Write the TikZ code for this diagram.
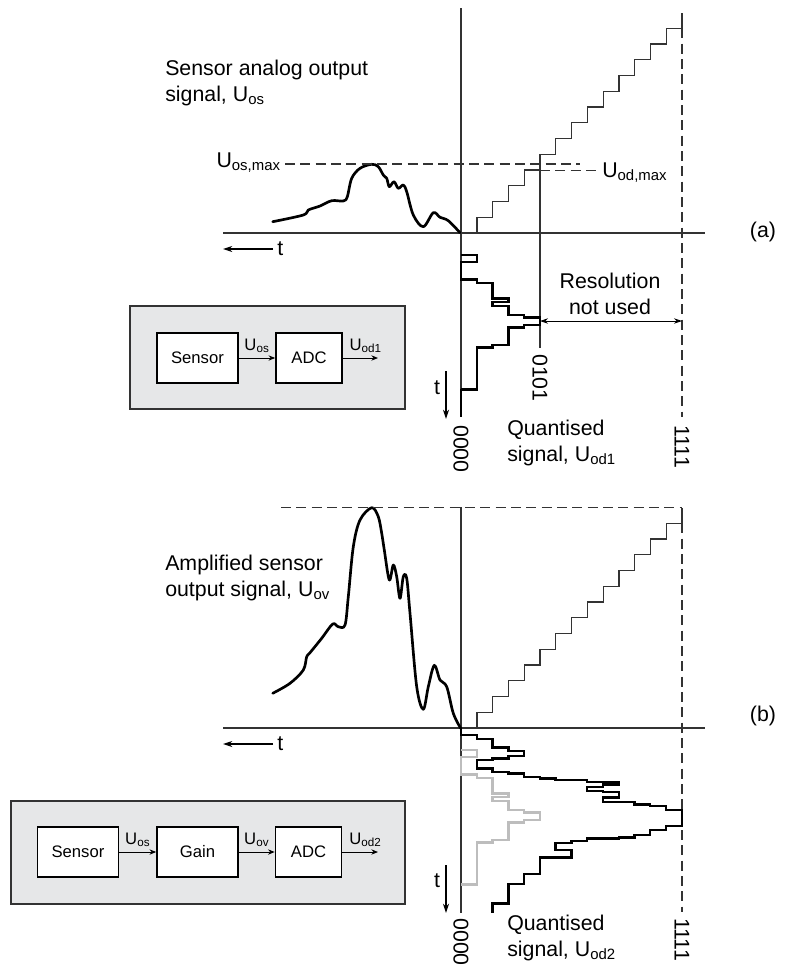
\documentclass[tikz,border=0pt]{standalone}
\usepackage{fontspec}
\setmainfont{Liberation Sans}
\usetikzlibrary{arrows.meta,positioning}

\definecolor{panelgray}{HTML}{E6E7E8}
\definecolor{axisgray}{HTML}{333333}
\definecolor{histgray}{HTML}{BDBDBD}

\tikzset{
  axisline/.style={axisgray, line width=0.9pt},
  guideline/.style={axisgray, line width=0.9pt, dash pattern=on 7.5pt off 4pt},
  analog/.style={line width=2pt, line join=round, line cap=round},
  histo/.style={line width=1.8pt, line join=miter},
  lbl/.style={font=\fontsize{16}{19.5}\selectfont, inner sep=0pt},
  blocktext/.style={font=\fontsize{12.5}{14}\selectfont},
  blockbox/.style={draw, line width=1.2pt, fill=white, minimum height=37.5pt, inner sep=0pt, blocktext},
  panel/.style={draw=axisgray, line width=1.1pt, fill=panelgray, minimum height=77.25pt, inner sep=0pt},
  sig/.style={-{Stealth[length=5pt,width=4pt]}, line width=0.7pt},
  timearrow/.style={-{Stealth[length=7pt,width=4.5pt]}, line width=0.8pt},
  quanthist/.pic={
    \draw[histo] (0,255) -- (1,255) -- (1,261.7) -- (0,261.7) -- (0,279.3) -- (1,279.3)
      -- (1,282.7) -- (2,282.7) -- (2,298.3) -- (3,298.3) -- (3,301.7) -- (2,301.7)
      -- (2,306) -- (3,306) -- (3,315) -- (4,315) -- (4,317.3) -- (5,317.3) -- (5,325)
      -- (4,325) -- (4,327.3) -- (3,327.3) -- (3,345) -- (2,345) -- (2,347.3)
      -- (1,347.3) -- (1,389.3) -- (0,389.3);
  },
}

\begin{document}
\begin{tikzpicture}[x=0.75pt, y=-0.75pt]
  \useasboundingbox (0,0) rectangle (787,967);

  % axes, staircase and full scale line of both plots
  \foreach \dy in {0,495} {
    \begin{scope}[shift={(0,\dy)}]
      \draw[axisline] (223,233) -- (705,233);
      \draw[axisline] (461,233) -- (477,233)
        foreach \k in {1,...,13} { -- ++(0,-15.75) -- ++(15.77,0) } -- ++(0,-15.75);
      \draw[guideline] (682,13) -- (682,417);
    \end{scope}
  }
  \draw[axisline] (461,8) -- (461,417);
  \draw[axisline] (461,507) -- (461,913);

  % (a) sensor signal
  \node[lbl, anchor=west, align=left] (titleA) at (165,83) {Sensor analog output\\signal, U\textsubscript{os}};
  \draw[analog] plot[smooth, tension=0.55] coordinates {
    (272.7,221.7) (303.3,215) (308.3,210) (320,206) (331.7,200.7) (343.3,201)
    (347.3,196.7) (351.7,178.3) (360,168.3) (371.7,164.3) (378.3,166.7) (383.3,175)
    (386.7,178.3) (389.3,186.7) (394,181.7) (398.3,188.3) (403.3,185) (406.7,191.7)
    (413.3,215) (423.3,226.7) (433.3,212.7) (440,217.3) (448.3,220.7) (460,232.7)};
  \node[lbl, anchor=base east] (osmax) at (281,167) {U\textsubscript{os,max}};
  \draw[guideline] (285,164) -- (580,164);
  \node[lbl, anchor=base west] (odmax) at (602,177) {U\textsubscript{od,max}};
  \draw[guideline] (540,170.2) -- (598,170.2);
  \draw[axisline] (540,154.5) -- (540,348);

  \node[lbl, align=center] (resol) at (610,294) {Resolution\\not used};
  \coordinate (lsb) at (540,321);
  \coordinate (msb) at (682,321);
  \draw[{Stealth[length=6pt,width=4pt]}-{Stealth[length=6pt,width=4pt]}, line width=0.7pt] (lsb) -- (msb);

  \node[lbl, anchor=west] (tA) at (277,249) {t};
  \coordinate (tAend) at (223,249);
  \draw[timearrow] (tA.west) ++(-4,0) -- (tAend);
  \node[lbl] (tdA) at (437,388) {t};
  \coordinate (tdAtop) at (446,371);
  \coordinate (tdAend) at (446,419);
  \draw[timearrow] (tdAtop) -- (tdAend);

  \node[lbl, rotate=-90, anchor=west] (zeroA) at (461,425) {0000};
  \node[lbl, rotate=-90, anchor=west] (fiveA) at (540,354) {0101};
  \node[lbl, rotate=-90, anchor=west] (fullA) at (682,425) {1111};
  \node[lbl, anchor=west, align=left] (quantA) at (507,443) {Quantised\\signal, U\textsubscript{od1}};
  \node[lbl] (tagA) at (763,232) {(a)};

  % (b) amplified signal
  \node[lbl, anchor=west, align=left] (titleB) at (165,578) {Amplified sensor\\output signal, U\textsubscript{ov}};
  \draw[analog] plot[smooth, tension=0.55] coordinates {
    (272.7,693.3) (290,683.3) (303.3,670) (306.7,656.7) (310,652.7) (321.7,638.3)
    (332.7,624) (338.3,626.7) (345,625) (348.3,596.7) (353.3,546.7) (360,520)
    (371.7,507.7) (378.3,516.7) (381.7,533.3) (384.3,550) (389.3,580) (393.3,565)
    (396.7,576.7) (400,598.3) (403.3,576.7) (406.7,578.3) (410,613.3) (416.7,686.7)
    (423.3,709.3) (428.3,686.7) (434.3,665.3) (440,680) (446.7,686.7) (453.3,713.3)
    (460.7,728.3)};
  \draw[guideline] (281,507.2) -- (682,507.2);

  \node[lbl, anchor=west] (tB) at (277,744) {t};
  \coordinate (tBend) at (223,744);
  \draw[timearrow] (tB.west) ++(-4,0) -- (tBend);
  \node[lbl] (tdB) at (437,881) {t};
  \coordinate (tdBtop) at (446,865);
  \coordinate (tdBend) at (446,913);
  \draw[timearrow] (tdBtop) -- (tdBend);

  \node[lbl, rotate=-90, anchor=west] (zeroB) at (461,918) {0000};
  \node[lbl, rotate=-90, anchor=west] (fullB) at (682,918) {1111};
  \node[lbl, anchor=west, align=left] (quantB) at (507,938) {Quantised\\signal, U\textsubscript{od2}};
  \node[lbl] (tagB) at (763,716) {(b)};

  % quantised histograms
  \begin{scope}[shift={(461,0)}, x=11.8275pt]
    \pic {quanthist};
    \draw[histo] (0,389.3) -- (0,417);
    \pic[color=histgray] at (0,495) {quanthist};
    \draw[histo] (0,727.3) -- (0,735) -- (1,735) -- (1,739) -- (2,739) -- (2,747.3)
      -- (3,747.3) -- (3,751) -- (4,751) -- (4,756) -- (3,756) -- (3,758.3) -- (2,758.3)
      -- (2,760) -- (1,760) -- (1,768.3) -- (2,768.3) -- (2,771.7) -- (3,771.7)
      -- (3,773.3) -- (4,773.3) -- (4,776.7) -- (5,776.7) -- (5,778.3) -- (6,778.3)
      -- (6,780) -- (8,780) -- (8,781.7) -- (10,781.7) -- (10,784.3) -- (9,784.3)
      -- (9,786.7) -- (8,786.7) -- (8,790.7) -- (9,790.7) -- (9,791.7) -- (10,791.7)
      -- (10,797.3) -- (9,797.3) -- (9,801.7) -- (11,801.7) -- (11,804.3) -- (12,804.3)
      -- (12,806) -- (13,806) -- (13,810) -- (14,810) -- (14,826) -- (13,826)
      -- (13,830) -- (12,830) -- (12,835) -- (11,835) -- (11,837.3) -- (10,837.3)
      -- (10,838.3) -- (8,838.3) -- (8,840.7) -- (7,840.7) -- (7,842.7) -- (6,842.7)
      -- (6,850) -- (7,850) -- (7,857.3) -- (5,857.3) -- (5,874) -- (4,874) -- (4,884)
      -- (3,884) -- (3,903.3) -- (2,903.3) -- (2,912.7);
  \end{scope}

  % block diagram (a)
  \node[panel, minimum width=206.25pt] (panelA) at (267.5,357.5) {};
  \node[blockbox, minimum width=60.75pt] (sensorA) at (197.5,358) {Sensor};
  \node[blockbox, minimum width=49.5pt] (adcA) at (309,358) {ADC};
  \coordinate (outA) at (378,358);
  \draw[sig] (sensorA) -- node[above, blocktext] {U\textsubscript{os}} (adcA);
  \draw[sig] (adcA) -- node[above, blocktext, pos=0.65] {U\textsubscript{od1}} (outA);

  % block diagram (b)
  \node[panel, minimum width=295.5pt] (panelB) at (208,852.5) {};
  \node[blockbox, minimum width=60.75pt] (sensorB) at (78,852) {Sensor};
  \node[blockbox, minimum width=60.75pt] (gainB) at (197.5,852) {Gain};
  \node[blockbox, minimum width=49.5pt] (adcB) at (308.5,852) {ADC};
  \coordinate (outB) at (378,852);
  \draw[sig] (sensorB) -- node[above, blocktext] {U\textsubscript{os}} (gainB);
  \draw[sig] (gainB) -- node[above, blocktext] {U\textsubscript{ov}} (adcB);
  \draw[sig] (adcB) -- node[above, blocktext, pos=0.65] {U\textsubscript{od2}} (outB);
\end{tikzpicture}
\end{document}
